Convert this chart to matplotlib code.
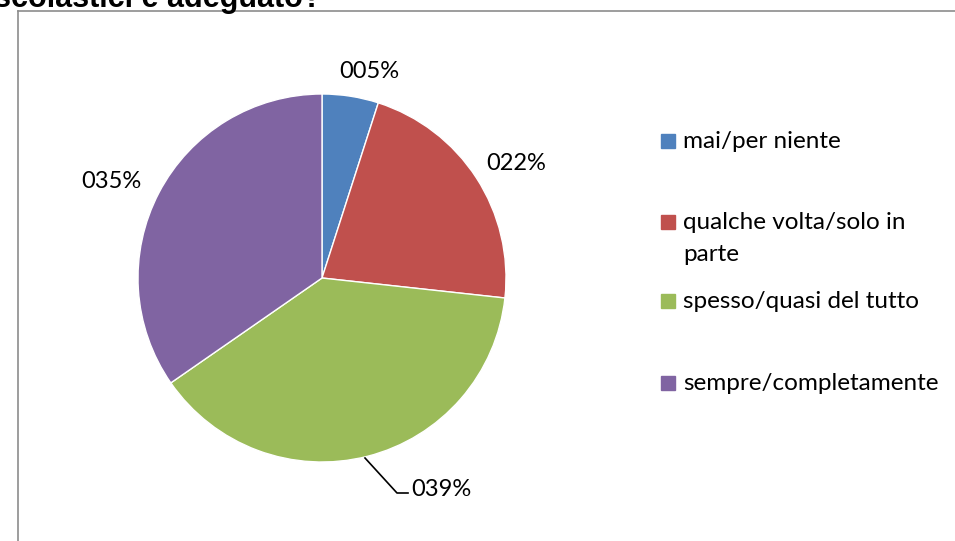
import matplotlib.pyplot as plt
from matplotlib.lines import Line2D
from matplotlib.patches import Rectangle

W, H = 955, 541

categorie = ["mai/per niente", "qualche volta/solo in\nparte",
             "spesso/quasi del tutto", "sempre/completamente"]
valori = [5, 22, 39, 35]
etichette = ["005%", "022%", "039%", "035%"]
colori = ["#4F81BD", "#C0504D", "#9BBB59", "#8064A2"]

plt.rcParams['font.family'] = ['Lato', 'DejaVu Sans']

fig = plt.figure(figsize=(W / 100, H / 100), dpi=100)

def fx(px):
    return px / W

def fy(py):
    return 1 - py / H

# bordo dell'area grafico
fig.add_artist(Line2D([fx(17.5), fx(17.5)], [fy(10.5), 0], color="#8c8c8c", lw=1.2))
fig.add_artist(Line2D([fx(17.5), 1], [fy(10.5), fy(10.5)], color="#8c8c8c", lw=1.2))

# titolo (tagliato in alto)
fig.text(fx(-6), fy(7), "scolastici è adeguato?", fontsize=22, fontweight="bold",
         family="Liberation Sans", ha="left", va="baseline")

cx, cy, r = 322, 278, 184
ax = fig.add_axes([fx(cx - r), fy(cy + r), 2 * r / W, 2 * r / H])
ax.pie(valori, colors=colori, startangle=90, counterclock=False,
       wedgeprops=dict(edgecolor="white", linewidth=1))
ax.set_xlim(-1, 1)
ax.set_ylim(-1, 1)
ax.set_aspect("auto")
ax.axis("off")

# etichette dati
pos = [(369, 72), (516, 163), (441, 490), (111, 182)]
for (x, y), t in zip(pos, etichette):
    fig.text(fx(x), fy(y), t, fontsize=17, ha="center", va="center")
fig.add_artist(Line2D([fx(365), fx(397), fx(408)], [fy(458), fy(493), fy(493)],
                      color="black", lw=1.2))

# legenda
leg_y = [141, 222, 301, 383]
for y, c, t in zip(leg_y, colori, categorie):
    fig.add_artist(Rectangle((fx(661), fy(y + 7)), 14 / W, 14 / H, color=c,
                             transform=fig.transFigure))
    ty = y + 16.5 if "\n" in t else y
    fig.text(fx(683), fy(ty), t, fontsize=17.5, ha="left", va="center",
             linespacing=1.62)

fig.savefig("out.png", dpi=100)
